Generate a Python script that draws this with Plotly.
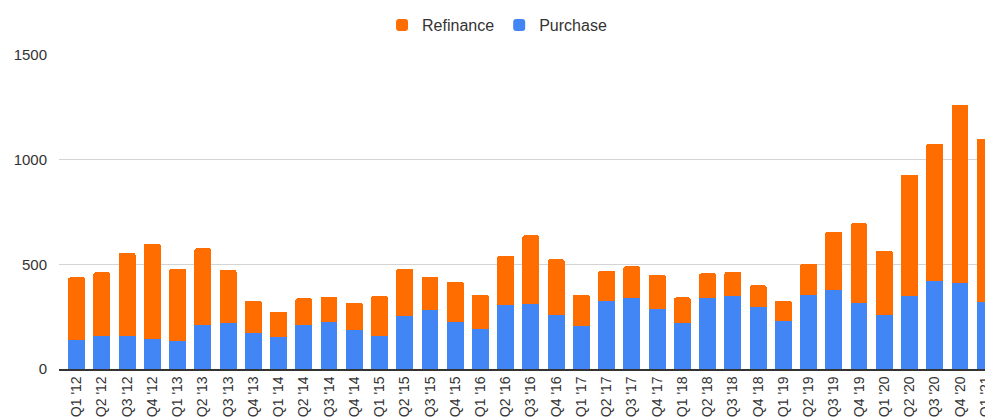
import plotly.graph_objects as go

quarters = ["Q1 '12", "Q2 '12", "Q3 '12", "Q4 '12", "Q1 '13", "Q2 '13", "Q3 '13", "Q4 '13",
            "Q1 '14", "Q2 '14", "Q3 '14", "Q4 '14", "Q1 '15", "Q2 '15", "Q3 '15", "Q4 '15",
            "Q1 '16", "Q2 '16", "Q3 '16", "Q4 '16", "Q1 '17", "Q2 '17", "Q3 '17", "Q4 '17",
            "Q1 '18", "Q2 '18", "Q3 '18", "Q4 '18", "Q1 '19", "Q2 '19", "Q3 '19", "Q4 '19",
            "Q1 '20", "Q2 '20", "Q3 '20", "Q4 '20", "Q1 '21"]

purchase = [139, 156, 156, 145, 134, 212, 218, 172,
            151, 212, 225, 185, 156, 253, 282, 225,
            191, 304, 309, 258, 207, 326, 338, 287,
            218, 338, 349, 298, 229, 354, 377, 315,
            258, 349, 422, 411, 320]

totals = [438, 462, 554, 599, 479, 577, 473, 326,
          274, 338, 344, 315, 349, 479, 440, 417,
          354, 541, 639, 524, 354, 468, 490, 451,
          342, 457, 463, 400, 326, 502, 656, 696,
          564, 929, 1077, 1263, 1099]

refinance = [t - p for t, p in zip(totals, purchase)]

fig = go.Figure()
fig.add_trace(go.Bar(x=quarters, y=purchase, name="Purchase",
                     marker=dict(color="#4285F4", line=dict(width=0))))
fig.add_trace(go.Bar(x=quarters, y=refinance, name="Refinance",
                     marker=dict(color="#FF6D01", line=dict(width=0))))

fig.update_layout(
    width=985, height=411,
    barmode="stack",
    bargap=0.33,
    barcornerradius=2,
    paper_bgcolor="white",
    plot_bgcolor="white",
    margin=dict(l=51, r=0, t=47, b=50),
    font=dict(family="Liberation Sans, Arial, sans-serif", size=15, color="#444444"),
    legend=dict(orientation="h", x=0.47, xanchor="center", y=1.0, yref="container",
                yanchor="top", traceorder="reversed",
                font=dict(size=16, color="#333333"), itemwidth=30),
    xaxis=dict(type="category", range=[-0.7, 36.23], tickangle=-90,
               tickmode="array", tickvals=quarters, ticktext=quarters,
               showgrid=False, showline=True, linecolor="#333333", linewidth=1.5,
               ticks="", tickfont=dict(size=14, color="#333333")),
    yaxis=dict(range=[0, 1500], tickvals=[0, 500, 1000, 1500],
               showgrid=True, gridcolor="#d4d4d4", gridwidth=1,
               zeroline=False, ticks="", ticklabelstandoff=11,
               tickfont=dict(size=15, color="#333333")),
    showlegend=True,
)

fig.write_html("out.html")
